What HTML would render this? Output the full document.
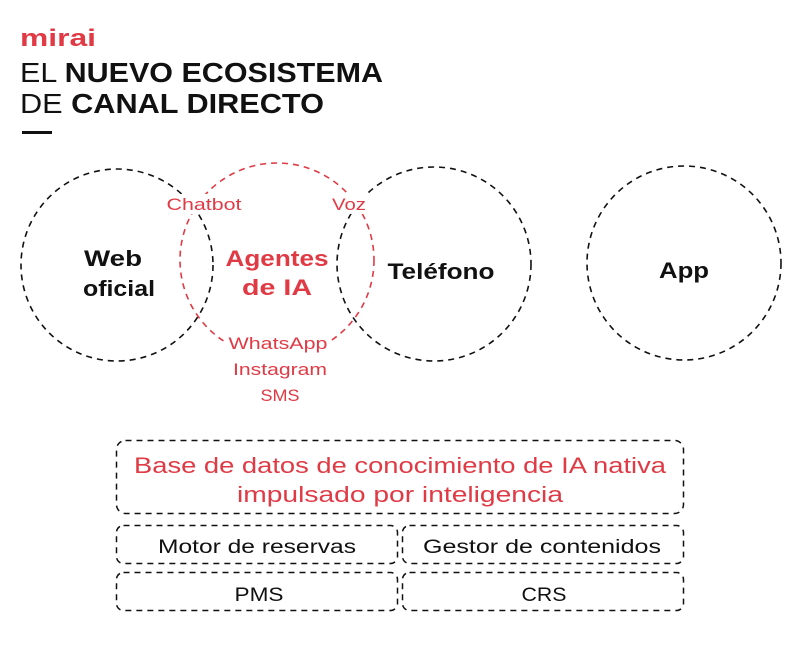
<!DOCTYPE html>
<html><head><meta charset="utf-8"><style>
html,body{margin:0;padding:0;background:#fff;}
body{width:800px;height:654px;overflow:hidden;}
</style></head><body>
<svg width="800" height="654" viewBox="0 0 800 654" xmlns="http://www.w3.org/2000/svg" font-family="'Liberation Sans', sans-serif">
<rect width="800" height="654" fill="#fff"/>
<text x="20" y="46" font-size="24" font-weight="bold" fill="#e03a45" textLength="76" lengthAdjust="spacingAndGlyphs">mirai</text>
<text x="20" y="82" font-size="28" fill="#111" textLength="363" lengthAdjust="spacingAndGlyphs">EL <tspan font-weight="bold">NUEVO ECOSISTEMA</tspan></text>
<text x="20" y="113" font-size="28" fill="#111" textLength="304" lengthAdjust="spacingAndGlyphs">DE <tspan font-weight="bold">CANAL DIRECTO</tspan></text>
<rect x="22" y="131" width="30" height="3" fill="#111"/>
<g fill="none" stroke-width="1.6" stroke-dasharray="6 5">
<circle cx="117" cy="265" r="96" stroke="#111"/>
<circle cx="434" cy="264" r="97" stroke="#111"/>
<circle cx="684" cy="263" r="97" stroke="#111"/>
<circle cx="277" cy="260" r="97" stroke="#e03a45"/>
</g>
<g fill="#fff">
<rect x="163" y="194" width="82" height="20"/>
<rect x="330" y="194" width="38" height="20"/>
<rect x="226" y="334" width="104" height="70"/>
</g>
<g font-size="17" fill="#e03a45" text-anchor="middle" lengthAdjust="spacingAndGlyphs">
<text x="204" y="210" textLength="75" lengthAdjust="spacingAndGlyphs">Chatbot</text>
<text x="349" y="210" textLength="34" lengthAdjust="spacingAndGlyphs">Voz</text>
<text x="278" y="349" textLength="99" lengthAdjust="spacingAndGlyphs">WhatsApp</text>
<text x="280" y="375" textLength="94" lengthAdjust="spacingAndGlyphs">Instagram</text>
<text x="280" y="401" textLength="39" lengthAdjust="spacingAndGlyphs">SMS</text>
</g>
<g font-size="22" font-weight="bold" text-anchor="middle">
<text x="277" y="266" fill="#e03a45" textLength="103" lengthAdjust="spacingAndGlyphs">Agentes</text>
<text x="277" y="295" fill="#e03a45" textLength="70" lengthAdjust="spacingAndGlyphs">de IA</text>
<text x="113" y="266" fill="#111" textLength="58" lengthAdjust="spacingAndGlyphs">Web</text>
<text x="119" y="296" fill="#111" textLength="72" lengthAdjust="spacingAndGlyphs">oficial</text>
<text x="441" y="279" fill="#111" textLength="107" lengthAdjust="spacingAndGlyphs">Teléfono</text>
<text x="684" y="278" fill="#111" textLength="50" lengthAdjust="spacingAndGlyphs">App</text>
</g>
<g fill="none" stroke="#111" stroke-width="1.5" stroke-dasharray="6 5">
<rect x="116.5" y="440.5" width="567" height="73" rx="9"/>
<rect x="116.5" y="525.5" width="281" height="38" rx="7"/>
<rect x="402.5" y="525.5" width="281" height="38" rx="7"/>
<rect x="116.5" y="572.5" width="281" height="38" rx="7"/>
<rect x="402.5" y="572.5" width="281" height="38" rx="7"/>
</g>
<g font-size="22" fill="#e03a45" text-anchor="middle">
<text x="400" y="473" textLength="532" lengthAdjust="spacingAndGlyphs">Base de datos de conocimiento de IA nativa</text>
<text x="400" y="502" textLength="326" lengthAdjust="spacingAndGlyphs">impulsado por inteligencia</text>
</g>
<g font-size="19" fill="#111" text-anchor="middle">
<text x="257" y="553" textLength="198" lengthAdjust="spacingAndGlyphs">Motor de reservas</text>
<text x="542" y="553" textLength="238" lengthAdjust="spacingAndGlyphs">Gestor de contenidos</text>
<text x="259" y="601" textLength="49" lengthAdjust="spacingAndGlyphs">PMS</text>
<text x="544" y="601" textLength="45" lengthAdjust="spacingAndGlyphs">CRS</text>
</g>
</svg>
</body></html>
